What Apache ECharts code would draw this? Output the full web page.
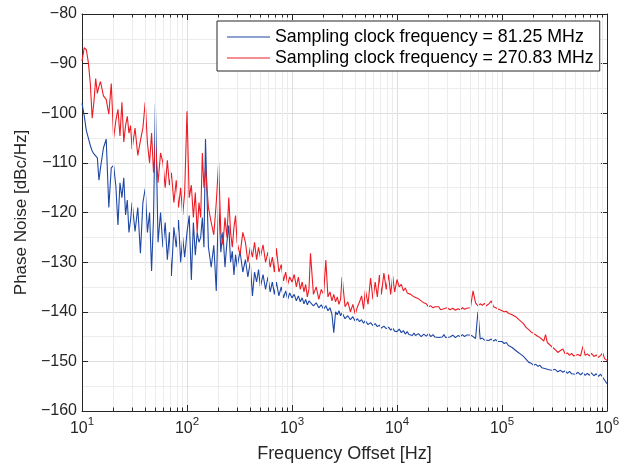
<!DOCTYPE html>
<html>
<head>
<meta charset="utf-8">
<script src="https://cdn.jsdelivr.net/npm/echarts@6/dist/echarts.min.js"></script>
<style>
html,body{margin:0;padding:0;background:#fff;}
#chart{width:629px;height:468px;}
</style>
</head>
<body>
<div id="chart"></div>
<script>
// Frequency offsets (Hz)
const freqHz = [
  10,10.5,11,11.5,12,12.5,13,13.5,14,14.5,15,16,17,18,19,20,21,22,23,24,25,26,27,28,29,30,32,34,36,38,40,42,44,46,48,50,53,56,59,62,65,68,71,75,79,83,87,91,95,
  100,105,110,115,120,125,130,135,140,145,150,160,170,180,190,200,210,220,230,240,250,260,270,280,290,300,320,340,360,380,400,420,440,460,480,500,530,560,590,620,650,680,710,750,790,830,870,910,950,
  1000,1050,1100,1150,1200,1250,1300,1350,1400,1450,1500,1600,1700,1800,1900,2000,2100,2200,2300,2400,2500,2600,2700,2800,2900,3000,3200,3400,3600,3800,4000,4200,4400,4600,4800,5000,5300,5600,5900,6200,6500,6800,7100,7500,7900,8300,8700,9100,9500,
  10000,10500,11000,11500,12000,12500,13000,13500,14000,14500,15000,16000,17000,18000,19000,20000,21000,22000,23000,24000,25000,26000,27000,28000,29000,30000,32000,34000,36000,38000,40000,42000,44000,46000,48000,50000,53000,56000,59000,62000,65000,68000,71000,75000,79000,83000,87000,91000,95000,
  100000,105000,110000,115000,120000,125000,130000,135000,140000,145000,150000,160000,170000,180000,190000,200000,210000,220000,230000,240000,250000,260000,270000,280000,290000,300000,320000,340000,360000,380000,400000,420000,440000,460000,480000,500000,530000,560000,590000,620000,650000,680000,710000,750000,790000,830000,870000,910000,950000,
  1000000
];

// Phase noise, sampling clock 81.25 MHz (dBc/Hz)
const blueDb = [
  -98,-100.5,-103.5,-105,-106.5,-107.6,-108.2,-107.8,-109,-113.5,-111,
  -107,-105.2,-119,-111,-110.5,-114.6,-122.5,-114,-117,-113,
  -120.5,-117.5,-124,-121.5,-118,
  -123.8,-119,-128.2,-118,-115.2,-124,-120,-131.8,-121,-98.2,
  -126,-120,-127,-122,-129.5,-124,-132.8,-123,-127,-121.5,-130,-125,-129,
  -124,-120.6,-133.6,-122,-128.6,-124,-126,-125,-121,-127,-105.2,
  -127,-131,-126.6,-135.8,-117.2,-128,-124,-131,-126,-122.6,
  -130,-127.8,-132.6,-128.5,-131,
  -127.8,-132,-129.5,-133,-130,-136.8,-132,-134,-131.5,-135,
  -132.5,-135.5,-133,-136,-134,-136.5,-134,-136.8,-135,-137.2,-135.8,-137.5,-136.2,
  -137.2,-136.5,-137.8,-136.8,-138,-137.2,-138.4,-137.5,-138.6,-137.8,-138.2,
  -138.8,-138.2,-139.2,-138.6,-139.5,-138.8,-139.8,-139.2,-140.5,-144.2,
  -140,-140.6,-139.8,-140.8,-140.2,
  -141.4,-140.8,-141.6,-141,-141.9,-141.4,-142,-141.6,-142.3,-141.8,
  -142.6,-142.2,-142.8,-142.4,-143,-142.7,-143.3,-142.9,-143.4,-143.1,-143.7,-143.3,-143.9,
  -144,-143.5,-144.2,-143.8,-144.5,-144,-144.6,-144.2,-144.8,-144.3,-144.8,
  -144.4,-145,-144.5,-144.9,-144.4,-145,-144.6,-145.1,-144.7,-145.2,
  -144.8,-145.1,-144.6,-145.2,-144.8,
  -145.1,-144.7,-145.2,-144.8,-145,-144.6,-145,-144.7,-145.1,-144.7,
  -145,-145.4,-140,-145.5,-145.3,-145.7,-145.4,-145.8,-145.5,-145.9,-145.6,-146,-145.8,
  -146,-146.4,-146.2,-146.8,-146.6,-147.2,-147.4,-147.8,-148,-148.3,-148.5,
  -149,-149.6,-150.2,-150.4,-150.8,-150.6,-151,-150.8,-151.3,-151.1,
  -151.5,-151.3,-151.7,-151.4,-151.8,
  -151.6,-152.1,-151.8,-152.2,-151.9,-152.4,-152,-152.5,-152.1,-152.6,
  -152.2,-152.7,-152.3,-152.8,-152.4,-152.8,-152.3,-152.9,-152.5,-153,-152.6,-153.2,-153.6,
  -154.5
];

// Phase noise, sampling clock 270.83 MHz (dBc/Hz)
const redDb = [
  -89.5,-86.8,-87.2,-89.8,-94,-101,-97.6,-93,-96,-94.6,-93.6,
  -96.5,-97.2,-100.2,-94,-105,-101.5,-99.2,-104.6,-97.8,-105.8,
  -102.5,-100.6,-104,-102.5,-107.2,
  -103,-108.5,-105.5,-103,-97.8,-106,-110,-104,-112,-106,
  -114,-108,-110,-115,-109.5,-114.5,-112,-118,-113.5,-119,-115,-120.5,-116,
  -99.6,-117,-114.5,-121,-116,-124,-118,-121,-108,-115,-111,
  -119,-122,-124.5,-118,-110,-124,-126.5,-121,-125,-117,
  -124,-127,-123,-120.6,-126,
  -128.5,-124,-126,-130,-127,-129,-126,-129.5,-127,-129,
  -126.5,-130,-128,-131,-129,-132,-127.2,-132,-130.5,-133.8,-132,-134.5,-133,
  -134,-132.5,-135,-133,-135.5,-134,-136,-134.5,-137,-135.5,-128.2,
  -136.5,-135,-137.5,-135.5,-136.5,-129.6,-137,-136,-137.8,-136.5,
  -138,-137,-138.5,-137.5,-133,
  -139,-138,-140,-138.5,-140.5,-139,-138,-136.8,-139.5,-135.6,
  -138.5,-133.2,-137.5,-134,-137,-132.6,-136.5,-132.2,-135.5,-132.5,-136.5,-132.8,-136,
  -133.5,-135,-134.5,-135.8,-135.2,-136.2,-135.8,-136.5,-136.2,-137,-136.6,
  -137.4,-137.8,-138.2,-138.4,-139,-138.8,-139.2,-139,-139.4,-139,
  -139.6,-139.2,-139.4,-139.8,-139.2,
  -139.6,-139.3,-139.7,-139.4,-139.6,-139.2,-139.5,-139.3,-139.6,-139.2,
  -135.8,-138.2,-138.8,-138.4,-138.7,-138.3,-138.8,-138.4,-137.8,-139,-139.2,-139.4,-139.5,
  -139.8,-140,-139.9,-140.3,-140.5,-140.6,-140.8,-141,-141.4,-141.6,-141.9,
  -142.4,-143.2,-143.6,-144.1,-144.4,-144.7,-145,-145.2,-145.6,-145.9,
  -144.6,-146.2,-146.5,-146.8,-147,
  -147.6,-148.2,-147.8,-147.5,-148.5,-148.3,-148.8,-148.4,-148.9,-148.5,
  -148.6,-148.9,-147,-148.8,-148.5,-148.9,-148.4,-149,-148.7,-149.2,-148.8,-148.3,-149.5,
  -149.8
];

// Minor log grid positions (Hz)
const minorFreqs = [
  20,30,40,50,60,70,80,90,
  200,300,400,500,600,700,800,900,
  2000,3000,4000,5000,6000,7000,8000,9000,
  20000,30000,40000,50000,60000,70000,80000,90000,
  200000,300000,400000,500000,600000,700000,800000,900000
];

const seriesNames = ['Sampling clock frequency = 81.25 MHz', 'Sampling clock frequency = 270.83 MHz'];
const seriesColors = ['#1f47a5', '#ee1c25'];
const yMin = -160, yMax = -80, yStep = 10;
const xMin = 10, xMax = 1000000;

const FONT = '"Liberation Sans", Arial, Helvetica, sans-serif';
const AX = '#262626';

const chart = echarts.init(document.getElementById('chart'), null, {renderer: 'canvas'});

const minorGrid = minorFreqs.map(f => ({xAxis: f}));
const minorTicks = [];
minorFreqs.forEach(f => {
  minorTicks.push([{coord: [f, yMin]}, {coord: [f, yMin + 0.7]}]);
  minorTicks.push([{coord: [f, yMax]}, {coord: [f, yMax - 0.7]}]);
});

const xLabelRich = {
  b: {fontSize: 16, fontFamily: FONT, color: AX, lineHeight: 18, verticalAlign: 'bottom'},
  s: {fontSize: 11.5, fontFamily: FONT, color: AX, lineHeight: 12, padding: [0, 0, 9, 0], verticalAlign: 'bottom'}
};

const option = {
  animation: false,
  backgroundColor: '#fff',
  grid: {left: 82, right: 22, top: 14, bottom: 54, containLabel: false},
  legend: {
    z: 50, zlevel: 0,
    data: seriesNames.map(n => ({name: n, icon: 'rect'})),
    orient: 'vertical',
    left: 217, top: 21,
    itemWidth: 43, itemHeight: 1, itemGap: 3,
    padding: [7, 6, 4, 10],
    backgroundColor: '#fff',
    borderColor: AX, borderWidth: 1, borderRadius: 0,
    textStyle: {fontSize: 17.8, fontFamily: FONT, color: '#000'}
  },
  xAxis: [{
    type: 'log', logBase: 10, min: xMin, max: xMax,
    position: 'bottom',
    name: 'Frequency Offset [Hz]', nameLocation: 'middle', nameGap: 34,
    nameTextStyle: {fontSize: 18, fontFamily: FONT, color: AX},
    axisLine: {show: true, onZero: false, lineStyle: {color: AX, width: 1}},
    axisTick: {show: true, inside: true, length: 6, lineStyle: {color: AX}},
    axisLabel: {
      margin: 8,
      formatter: v => '{b|10}{s|' + Math.round(Math.log10(v)) + '}',
      rich: xLabelRich
    },
    splitLine: {show: true, lineStyle: {color: '#dedede', width: 1}}
  }, {
    type: 'log', logBase: 10, min: xMin, max: xMax,
    position: 'top',
    axisLine: {show: true, onZero: false, lineStyle: {color: AX, width: 1}},
    axisTick: {show: true, inside: true, length: 6, lineStyle: {color: AX}},
    axisLabel: {show: false},
    splitLine: {show: false}
  }],
  yAxis: [{
    type: 'value', min: yMin, max: yMax, interval: yStep,
    position: 'left',
    name: 'Phase Noise [dBc/Hz]', nameLocation: 'middle', nameGap: 47,
    nameTextStyle: {fontSize: 17, fontFamily: FONT, color: AX},
    axisLine: {show: true, onZero: false, lineStyle: {color: AX, width: 1}},
    axisTick: {show: true, inside: true, length: 6, lineStyle: {color: AX}},
    axisLabel: {
      margin: 5, fontSize: 16, fontFamily: FONT, color: AX,
      formatter: v => (v < 0 ? '\u2212' : '') + Math.abs(v)
    },
    splitLine: {show: true, lineStyle: {color: '#dedede', width: 1}},
    minorTick: {show: false, splitNumber: 2},
    minorSplitLine: {show: true, lineStyle: {color: '#ececec', width: 1}}
  }, {
    type: 'value', min: yMin, max: yMax, interval: yStep,
    position: 'right',
    axisLine: {show: true, onZero: false, lineStyle: {color: AX, width: 1}},
    axisTick: {show: true, inside: true, length: 6, lineStyle: {color: AX}},
    axisLabel: {show: false},
    splitLine: {show: false}
  }],
  series: [
    {
      name: 'minor-grid', type: 'line', data: [], z: 1, silent: true,
      xAxisIndex: 0, yAxisIndex: 0,
      markLine: {
        silent: true, symbol: ['none', 'none'], label: {show: false}, animation: false,
        lineStyle: {color: '#ececec', width: 1, type: 'solid'},
        emphasis: {disabled: true},
        data: minorGrid
      }
    },
    {
      name: seriesNames[0], type: 'line', showSymbol: false, symbol: 'none',
      xAxisIndex: 0, yAxisIndex: 0, z: 3,
      lineStyle: {color: seriesColors[0], width: 1.1},
      itemStyle: {color: seriesColors[0]},
      emphasis: {disabled: true},
      data: freqHz.map((f, i) => [f, blueDb[i]])
    },
    {
      name: seriesNames[1], type: 'line', showSymbol: false, symbol: 'none',
      xAxisIndex: 0, yAxisIndex: 0, z: 4,
      lineStyle: {color: seriesColors[1], width: 1.1},
      itemStyle: {color: seriesColors[1]},
      emphasis: {disabled: true},
      data: freqHz.map((f, i) => [f, redDb[i]])
    },
    {
      name: 'minor-ticks', type: 'line', data: [], z: 5, silent: true,
      xAxisIndex: 0, yAxisIndex: 0,
      markLine: {
        silent: true, symbol: ['none', 'none'], label: {show: false}, animation: false,
        lineStyle: {color: AX, width: 1, type: 'solid'},
        emphasis: {disabled: true},
        data: minorTicks
      }
    }
  ]
};

chart.setOption(option);
</script>
</body>
</html>
